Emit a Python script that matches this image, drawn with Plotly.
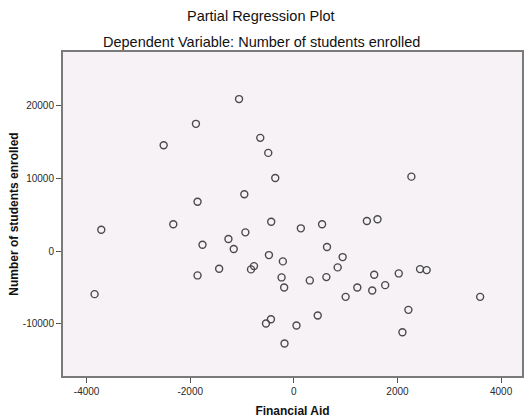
import plotly.graph_objects as go

# Partial residuals: Financial Aid (x) vs Number of students enrolled (y)
financial_aid = [
    -3846, -3717, -2513, -1890, -1859, -2327, -1058, -648, -494, -359,
    -956, -437, 135, 545, 1410, 1615, 2269, -936, -1263, -1763,
    -1160, -481, -212, -1442, -769, -827, -1859, -237, -187, 308,
    640, 942, 846, 628, 1551, 2025, 2436, 2564, 1225, 1513,
    1763, 1000, 3596, 2211, 2096, -538, -442, 51, 461, -180,
]
students_enrolled = [
    -5908, 2926, 14523, 17450, 6774, 3668, 20844, 15526, 13465, 10030,
    7790, 4026, 3119, 3668, 4122, 4355, 10209, 2565, 1649, 866,
    275, -550, -1415, -2432, -2061, -2514, -3339, -3614, -4988, -4026,
    550, -824, -2240, -3572, -3256, -3064, -2473, -2610, -4988, -5400,
    -4672, -6279, -6279, -8065, -11129, -9938, -9343, -10214, -8837, -12686,
]

x_ticks = [-4000, -2000, 0, 2000, 4000]
x_tick_labels = ["-4000", "-2000", "0", "2000", "4000"]
y_ticks = [-10000, 0, 10000, 20000]
y_tick_labels = ["-10000", "0", "10000", "20000"]

title_main = "Partial Regression Plot"
title_sub = "Dependent Variable: Number of students enrolled"

font_family = "Liberation Sans, Arial, sans-serif"
frame_color = "#7a7a7a"

fig = go.Figure(
    go.Scatter(
        x=financial_aid,
        y=students_enrolled,
        mode="markers",
        marker=dict(
            symbol="circle-open",
            size=7,
            color="#4a4a4a",
            line=dict(width=1.4, color="#4a4a4a"),
        ),
        hoverinfo="skip",
    )
)

axis_common = dict(
    showgrid=False,
    zeroline=False,
    showline=True,
    linecolor=frame_color,
    linewidth=2,
    mirror=True,
    ticks="outside",
    ticklen=5,
    tickwidth=1,
    tickcolor="#555555",
    tickfont=dict(family=font_family, size=10, color="#2a2a2a"),
)

fig.update_xaxes(
    range=[-4456, 4404],
    tickvals=x_ticks,
    ticktext=x_tick_labels,
    title=dict(
        text="<b>Financial Aid</b>",
        font=dict(family=font_family, size=12, color="#111111"),
        standoff=11,
    ),
    **axis_common,
)
fig.update_yaxes(
    range=[-17134, 27302],
    tickvals=y_ticks,
    ticktext=y_tick_labels,
    title=dict(
        text="<b>Number of students enrolled</b>",
        font=dict(family=font_family, size=12, color="#111111"),
        standoff=2,
    ),
    **axis_common,
)

# Both title lines are centred on the page rather than on the plot area
page_center = (262 - 63) / 461
fig.add_annotation(
    text=title_main, xref="paper", yref="paper", x=page_center, y=1.0,
    yshift=36, xanchor="center", yanchor="middle", showarrow=False,
    font=dict(family=font_family, size=14.5, color="#111111"),
)
fig.add_annotation(
    text=title_sub, xref="paper", yref="paper", x=page_center, y=1.0,
    yshift=10, xanchor="center", yanchor="middle", showarrow=False,
    font=dict(family=font_family, size=14.5, color="#111111"),
)

fig.update_layout(
    width=524,
    height=420,
    margin=dict(l=63, r=0, t=52, b=44),
    paper_bgcolor="white",
    plot_bgcolor="#f6f2f6",
    showlegend=False,
)

fig.write_html("out.html", config={"displayModeBar": False})
